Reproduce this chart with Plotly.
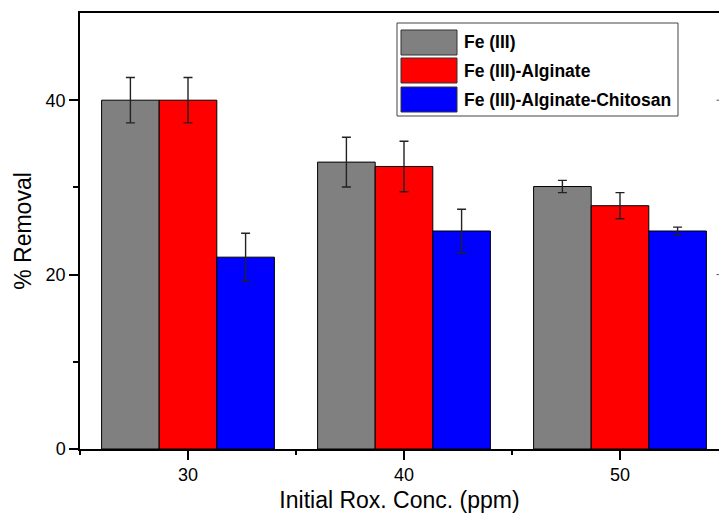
import plotly.graph_objects as go

# ---- data ----
categories = [30, 40, 50]
series_names = ["Fe (III)", "Fe (III)-Alginate", "Fe (III)-Alginate-Chitosan"]
fe3 = [40.0, 32.9, 30.1]
fe3_err = [2.6, 2.85, 0.7]
fe3_alg = [40.0, 32.4, 27.9]
fe3_alg_err = [2.6, 2.9, 1.5]
fe3_alg_chi = [22.0, 25.0, 25.0]
fe3_alg_chi_err = [2.75, 2.5, 0.45]
colors = ["#808080", "#FF0000", "#0000FF"]
x_ticklabels = ["30", "40", "50"]

W, H = 719, 519
ML, MR, MT, MB = 80, 0, 13, 70
FONT = "Arial, 'Liberation Sans', Helvetica, sans-serif"

fig = go.Figure()
for name, vals, errs, col in zip(series_names,
                                 [fe3, fe3_alg, fe3_alg_chi],
                                 [fe3_err, fe3_alg_err, fe3_alg_chi_err],
                                 colors):
    fig.add_trace(go.Bar(
        x=categories, y=vals, name=name,
        marker=dict(color=col, line=dict(color="black", width=1)),
        error_y=dict(type="data", array=errs, visible=True,
                     color="#222222", thickness=1.4, width=4.5),
        showlegend=False,
    ))

# ---- custom legend (large swatches as in the reference) ----
pw, ph = W - ML - MR, H - MT - MB
def px(x):
    return (x - ML) / pw
def py(y):
    return (H - MB - y) / ph

shapes = [dict(type="rect", xref="paper", yref="paper",
               x0=px(397), x1=px(678), y0=py(116), y1=py(23),
               line=dict(color="#444444", width=1), fillcolor="white", layer="above")]
annotations = []
row_tops = [30, 58, 87]
for i, (name, col) in enumerate(zip(series_names, colors)):
    t = row_tops[i]
    shapes.append(dict(type="rect", xref="paper", yref="paper",
                       x0=px(401), x1=px(457), y0=py(t + 25), y1=py(t),
                       line=dict(color="#333333", width=1), fillcolor=col, layer="above"))
    annotations.append(dict(xref="paper", yref="paper", x=px(462), y=py(t + 12.5),
                            text="<b>%s</b>" % name, showarrow=False,
                            xanchor="left", yanchor="middle",
                            font=dict(family=FONT, size=17.5, color="black")))

# tiny ticks of the (cropped) right axis
for v in [20, 40]:
    shapes.append(dict(type="line", xref="paper", yref="y",
                       x0=px(716.5), x1=px(719), y0=v, y1=v,
                       line=dict(color="#555555", width=1)))

fig.update_layout(
    width=W, height=H,
    margin=dict(l=ML, r=MR, t=MT, b=MB, pad=0),
    paper_bgcolor="white", plot_bgcolor="white",
    barmode="group", bargap=0.2, bargroupgap=0,
    shapes=shapes, annotations=annotations,
    font=dict(family=FONT, color="black"),
    xaxis=dict(
        range=[25, 25 + pw / 21.6],
        tickmode="array", tickvals=categories, ticktext=x_ticklabels,
        ticks="outside", ticklen=9, tickwidth=1.5, tickcolor="black",
        showline=True, linecolor="black", linewidth=1.5, mirror=True,
        showgrid=False, zeroline=False,
        tickfont=dict(size=18, family=FONT, color="black"),
        minor=dict(tickmode="linear", tick0=25, dtick=5, ticks="outside",
                   ticklen=4, tickwidth=1.5, tickcolor="black", showgrid=False),
        title=dict(text="Initial Rox. Conc. (ppm)", standoff=8,
                   font=dict(size=23, family=FONT, color="black")),
    ),
    yaxis=dict(
        range=[0, 50],
        tickmode="array", tickvals=[0, 20, 40], ticktext=["0", "20", "40"],
        ticks="outside", ticklen=9, tickwidth=1.5, tickcolor="black",
        showline=True, linecolor="black", linewidth=1.5, mirror=False,
        showgrid=False, zeroline=False,
        tickfont=dict(size=18, family=FONT, color="black"),
        minor=dict(tickmode="array", tickvals=[10, 30], ticks="outside",
                   ticklen=5, tickwidth=1.5, tickcolor="black", showgrid=False),
        title=dict(text="% Removal", standoff=8,
                   font=dict(size=23, family=FONT, color="black")),
    ),
)

fig.write_html("out.html")
